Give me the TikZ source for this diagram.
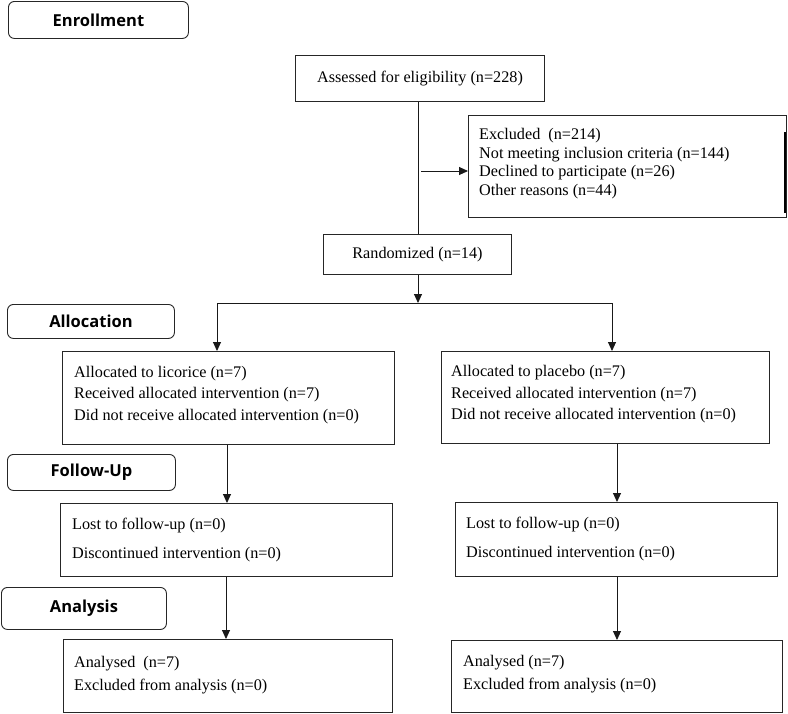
\documentclass[tikz,border=0pt]{standalone}
\usepackage{fontspec}
\setmainfont{Liberation Serif}
\newfontfamily\headfont{Open Sans}
\usetikzlibrary{arrows.meta,calc}
\tikzset{
  box/.style={draw=black!85, line width=1pt, rectangle, inner sep=0pt, anchor=north west},
  txt/.style={anchor=west, inner sep=0pt, align=left},
  head/.style={draw=black!85, line width=0.9pt, rounded corners=6pt, inner sep=0pt, anchor=north west, font=\headfont\bfseries\fontsize{16.5}{18}\selectfont},
  conn/.style={draw=black!90, line width=0.9pt},
  arr/.style={conn, -{Triangle[length=9pt,width=8pt]}},
}
\begin{document}
\begin{tikzpicture}[x=1pt,y=-1pt]
\useasboundingbox (0,0) rectangle (788,713);
\fill[white] (0,0) rectangle (788,713);

% heading boxes
\node[head, minimum width=180pt, minimum height=37pt] (enr) at (8,1) {Enrollment};
\node[head, minimum width=167pt, minimum height=34pt] (alloc) at (7,304) {Allocation};
\node[head, minimum width=168pt, minimum height=36pt] (fup) at (7,454) {Follow-Up};
\node[head, minimum width=165pt, minimum height=42pt] (ana) at (1,587) {Analysis};

% main boxes
\node[box, minimum width=249pt, minimum height=46pt, font=\fontsize{16.2}{18}\selectfont] (assess) at (295,55) {Assessed for eligibility (n=228)};

\node[box, minimum width=318pt, minimum height=102pt] (excl) at (468,115) {};
\node[txt, font=\fontsize{16.2}{18.5}\selectfont] (exclt) at ([xshift=11pt,yshift=3pt]excl.west)
  {Excluded\ \ (n=214)\\Not meeting inclusion criteria (n=144)\\Declined to participate (n=26)\\Other reasons (n=44)};
\draw[line width=2.4pt, black] ([xshift=-2pt,yshift=-17pt]excl.north east) -- ([xshift=-2pt,yshift=5pt]excl.south east);

\node[box, minimum width=188pt, minimum height=40pt, font=\fontsize{16.2}{18}\selectfont] (rand) at (323,234) {Randomized (n=14)};

\node[box, minimum width=332pt, minimum height=93pt] (lic) at (62,351) {};
\node[txt, font=\fontsize{16.2}{21.5}\selectfont] (lict) at ([xshift=12pt,yshift=3pt]lic.west)
  {Allocated to licorice (n=7)\\Received allocated intervention (n=7)\\Did not receive allocated intervention (n=0)};

\node[box, minimum width=328pt, minimum height=92pt] (pla) at (441,351) {};
\node[txt, font=\fontsize{16.2}{21.5}\selectfont] (plat) at ([xshift=10pt,yshift=3pt]pla.west)
  {Allocated to placebo (n=7)\\Received allocated intervention (n=7)\\Did not receive allocated intervention (n=0)};

\node[box, minimum width=332pt, minimum height=73pt] (lostL) at (60,503) {};
\node[txt, font=\fontsize{16.2}{29}\selectfont] (lostLt) at ([xshift=12pt]lostL.west)
  {Lost to follow-up (n=0)\\Discontinued intervention (n=0)};

\node[box, minimum width=322pt, minimum height=74pt] (lostR) at (455,502) {};
\node[txt, font=\fontsize{16.2}{29}\selectfont] (lostRt) at ([xshift=11pt]lostR.west)
  {Lost to follow-up (n=0)\\Discontinued intervention (n=0)};

\node[box, minimum width=329pt, minimum height=73pt] (anaL) at (63,639) {};
\node[txt, font=\fontsize{16.2}{23.5}\selectfont] (anaLt) at ([xshift=11pt,yshift=1pt]anaL.west)
  {Analysed\ \ (n=7)\\Excluded from analysis (n=0)};

\node[box, minimum width=331pt, minimum height=72pt] (anaR) at (451,640) {};
\node[txt, font=\fontsize{16.2}{23}\selectfont] (anaRt) at ([xshift=12pt,yshift=2pt]anaR.west)
  {Analysed (n=7)\\Excluded from analysis (n=0)};

% coordinates for connectors
\coordinate (mainx) at (418,0);
\coordinate (exstart) at (421,171);
\coordinate (split) at (418,303);
\coordinate (splitL) at (217,303);
\coordinate (splitR) at (612,303);
\coordinate (colL) at (227,0);
\coordinate (colL2) at (226,0);
\coordinate (colR) at (617,0);

% connectors
\draw[conn] (assess.south -| mainx) -- (rand.north -| mainx);
\draw[arr] (exstart) -- (excl.west |- exstart);
\draw[arr] (rand.south -| mainx) -- (split);
\draw[conn] (splitL) -- (splitR);
\draw[arr] (splitL) -- (lic.north -| splitL);
\draw[arr] (splitR) -- (pla.north -| splitR);
\draw[arr] (lic.south -| colL) -- (lostL.north -| colL);
\draw[arr] (pla.south -| colR) -- (lostR.north -| colR);
\draw[arr] (lostL.south -| colL2) -- (anaL.north -| colL2);
\draw[arr] (lostR.south -| colR) -- (anaR.north -| colR);
\end{tikzpicture}
\end{document}
